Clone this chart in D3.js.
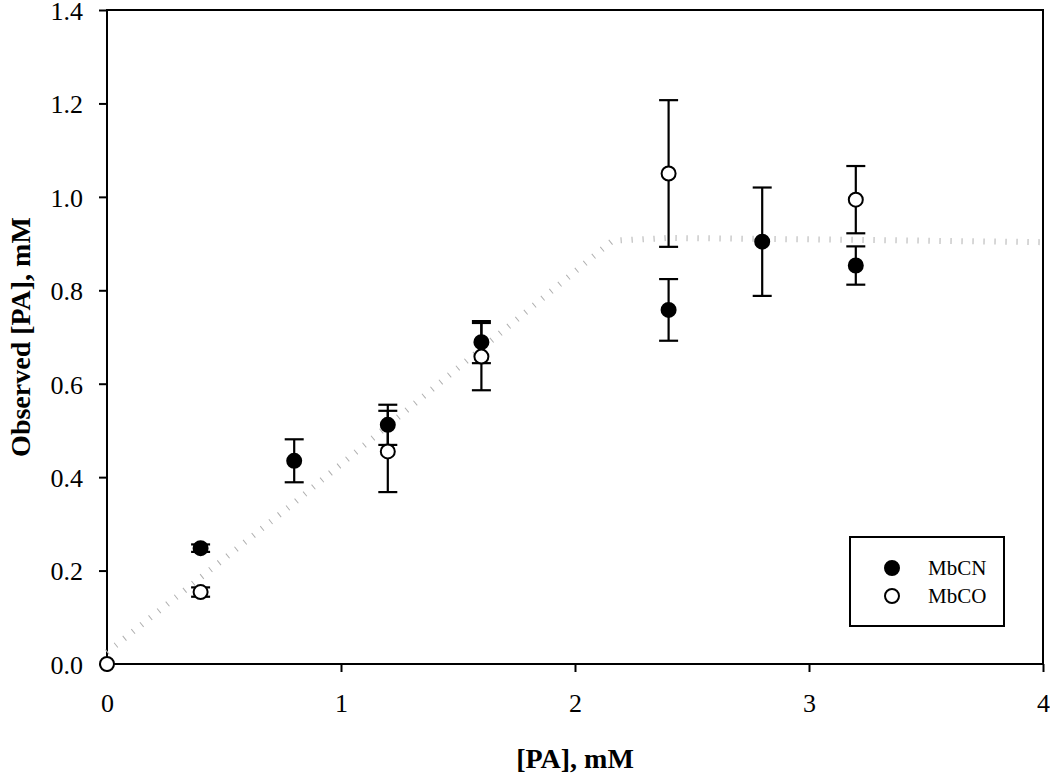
<!DOCTYPE html>
<html>
<head>
<meta charset="utf-8">
<script src="https://cdn.jsdelivr.net/npm/d3@7"></script>
<style>
  body { margin: 0; background: #fff; }
  svg text { font-family: "Liberation Serif", "Times New Roman", serif; }
</style>
</head>
<body>
<svg id="chart"></svg>
<script>
// data
const xTicks = [0, 1, 2, 3, 4];
const yTicks = [0, 0.2, 0.4, 0.6, 0.8, 1.0, 1.2, 1.4];

const cnX = [0.4, 0.8, 1.2, 1.6, 2.4, 2.8, 3.2];
const cnY = [0.248, 0.435, 0.512, 0.689, 0.758, 0.904, 0.853];
const cnErr = [0.008, 0.046, 0.043, 0.045, 0.066, 0.116, 0.041];

const coX = [0, 0.4, 1.2, 1.6, 2.4, 3.2];
const coY = [0, 0.154, 0.455, 0.658, 1.05, 0.994];
const coErr = [0, 0.01, 0.087, 0.072, 0.157, 0.072];

const fitX = [0, 0.4, 0.8, 1.2, 1.6, 2.0, 2.16, 2.4, 3.2, 4.0];
const fitY = [0.025, 0.185, 0.345, 0.51, 0.675, 0.84, 0.906, 0.912, 0.908, 0.903];

const seriesNames = ["MbCN", "MbCO"];

const W = 1050, H = 775;
const margin = { top: 10, right: 7, bottom: 111, left: 107 };
const width = W - margin.left - margin.right;
const height = H - margin.top - margin.bottom;

const svg = d3.select("#chart").attr("width", W).attr("height", H);
const g = svg.append("g").attr("transform", "translate(" + margin.left + "," + margin.top + ")");

const x = d3.scaleLinear().domain([0, 4]).range([0, width]);
const y = d3.scaleLinear().domain([0, 1.4]).range([height, 0]);

// frame
g.append("rect")
  .attr("width", width).attr("height", height)
  .attr("fill", "none").attr("stroke", "#000").attr("stroke-width", 2);

// axes
const xAxis = g.append("g")
  .attr("transform", "translate(0," + height + ")")
  .call(d3.axisBottom(x).tickValues(xTicks).tickFormat(d3.format("d")).tickSize(8).tickPadding(22));
const yAxis = g.append("g")
  .call(d3.axisLeft(y).tickValues(yTicks).tickFormat(d3.format(".1f")).tickSize(8).tickPadding(16));
[xAxis, yAxis].forEach(a => {
  a.select(".domain").remove();
  a.selectAll("line").attr("stroke", "#000").attr("stroke-width", 2);
  a.selectAll("text").attr("fill", "#000")
    .style("font-size", "26px")
    .style("font-family", "'Liberation Serif', serif");
});
yAxis.selectAll("text").attr("dy", "0.36em");

// fitted curve
const line = d3.line().x(d => x(d[0])).y(d => y(d[1]));
g.append("path")
  .datum(d3.zip(fitX, fitY))
  .attr("d", line)
  .attr("fill", "none")
  .attr("stroke", "#b0b0b0")
  .attr("stroke-width", 6)
  .attr("stroke-dasharray", "1,10");

// error bars + points
function drawSeries(xs, ys, errs, fill) {
  const data = xs.map((v, i) => ({ x: v, y: ys[i], e: errs[i] }));
  const eb = g.append("g").selectAll("g").data(data.filter(d => d.e > 0)).enter().append("g")
    .attr("stroke", "#000").attr("stroke-width", 2.2);
  eb.append("line")
    .attr("x1", d => x(d.x)).attr("x2", d => x(d.x))
    .attr("y1", d => y(d.y - d.e)).attr("y2", d => y(d.y + d.e));
  [1, -1].forEach(s => {
    eb.append("line")
      .attr("x1", d => x(d.x) - 9.5).attr("x2", d => x(d.x) + 9.5)
      .attr("y1", d => y(d.y + s * d.e)).attr("y2", d => y(d.y + s * d.e));
  });
  g.append("g").selectAll("circle").data(data).enter().append("circle")
    .attr("cx", d => x(d.x)).attr("cy", d => y(d.y))
    .attr("r", 7)
    .attr("fill", fill)
    .attr("stroke", "#000").attr("stroke-width", 2);
}
drawSeries(cnX, cnY, cnErr, "#000");
drawSeries(coX, coY, coErr, "#fff");

// axis titles
svg.append("text")
  .attr("x", margin.left + width / 2).attr("y", 768)
  .attr("text-anchor", "middle")
  .style("font-size", "28px").attr("font-weight", "bold")
  .text("[PA], mM");
svg.append("text")
  .attr("transform", "translate(30," + (margin.top + height / 2) + ") rotate(-90)")
  .attr("text-anchor", "middle")
  .style("font-size", "28px").attr("font-weight", "bold")
  .text("Observed [PA], mM");

// legend
const leg = svg.append("g").attr("transform", "translate(850,537)");
leg.append("rect").attr("width", 154).attr("height", 89)
  .attr("fill", "#fff").attr("stroke", "#000").attr("stroke-width", 2);
const fills = ["#000", "#fff"];
seriesNames.forEach((name, i) => {
  leg.append("circle").attr("cx", 42).attr("cy", 31 + i * 28).attr("r", 7)
    .attr("fill", fills[i]).attr("stroke", "#000").attr("stroke-width", 2);
  leg.append("text").attr("x", 78).attr("y", 38 + i * 28)
    .style("font-size", "21px").text(name);
});
</script>
</body>
</html>
